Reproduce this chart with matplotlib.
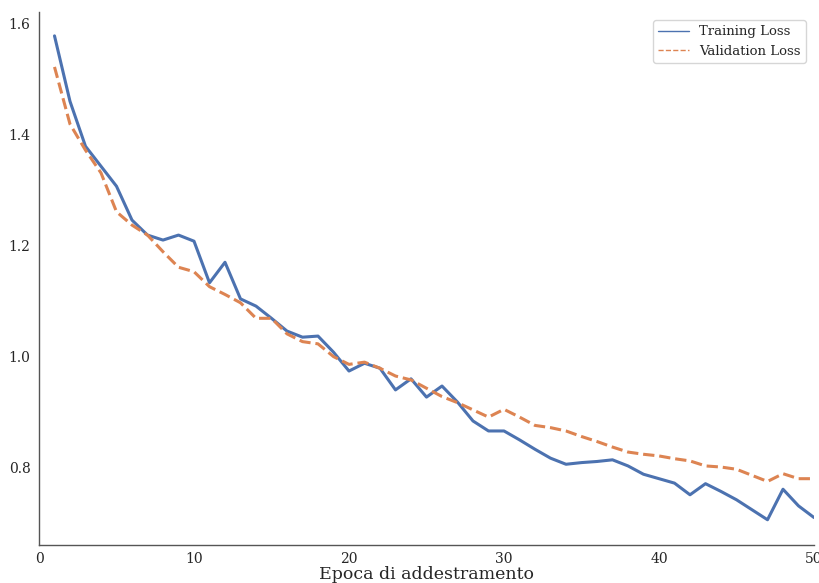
import matplotlib
matplotlib.use("Agg")
import matplotlib.pyplot as plt
import seaborn as sns
from matplotlib.lines import Line2D

epochs = list(range(1, 51))

train_loss = [
    1.577, 1.459, 1.378, 1.342, 1.306, 1.245, 1.218, 1.209, 1.218, 1.207,
    1.132, 1.169, 1.103, 1.090, 1.068, 1.045, 1.034, 1.036, 1.007, 0.973,
    0.987, 0.978, 0.939, 0.959, 0.926, 0.946, 0.917, 0.883, 0.865, 0.865,
    0.849, 0.832, 0.816, 0.805, 0.808, 0.810, 0.813, 0.802, 0.787, 0.779,
    0.771, 0.750, 0.770, 0.756, 0.741, 0.723, 0.705, 0.760, 0.730, 0.709,
]

val_loss = [
    1.521, 1.418, 1.371, 1.330, 1.260, 1.236, 1.218, 1.188, 1.160, 1.152,
    1.125, 1.111, 1.096, 1.068, 1.068, 1.040, 1.026, 1.022, 0.999, 0.985,
    0.989, 0.978, 0.964, 0.957, 0.942, 0.927, 0.916, 0.903, 0.890, 0.904,
    0.890, 0.875, 0.871, 0.865, 0.855, 0.846, 0.836, 0.827, 0.823, 0.820,
    0.815, 0.811, 0.802, 0.800, 0.796, 0.785, 0.774, 0.788, 0.779, 0.779,
]

series_labels = ["Training Loss", "Validation Loss"]
x_label = "Epoca di addestramento"

sns.set_style("white")
plt.rcParams["font.family"] = ["DejaVu Serif"]

blue, orange = sns.color_palette("deep")[0], sns.color_palette("deep")[1]

fig = plt.figure(figsize=(8.19, 5.83), dpi=100)
ax = fig.add_axes([39 / 819, 1 - 545 / 583, 775 / 819, 533 / 583])

ax.plot(epochs, train_loss, color=blue, linewidth=2.2)
ax.plot(epochs, val_loss, color=orange, linewidth=2.2, linestyle="--")

ax.set_xlim(0, 50)
ax.set_ylim(0.6595, 1.62)
ax.set_xticks([0, 10, 20, 30, 40, 50])
ax.set_yticks([0.8, 1.0, 1.2, 1.4, 1.6])
ax.tick_params(axis="both", labelsize=10, colors="#262626", length=0)
ax.tick_params(axis="x", pad=5)
ax.tick_params(axis="y", pad=6)
ax.set_xlabel(x_label, fontsize=12.5, color="#262626", labelpad=0)
sns.despine(ax=ax)
for side in ("left", "bottom"):
    ax.spines[side].set_color("#555555")
    ax.spines[side].set_linewidth(1.0)

handles = [
    Line2D([], [], color=blue, linewidth=1),
    Line2D([], [], color=orange, linewidth=1, linestyle="--"),
]
ax.legend(handles, series_labels, loc="upper right", fontsize=9.5,
          frameon=True, handlelength=2.3, borderaxespad=0.6)

fig.savefig("out.png", dpi=100)
